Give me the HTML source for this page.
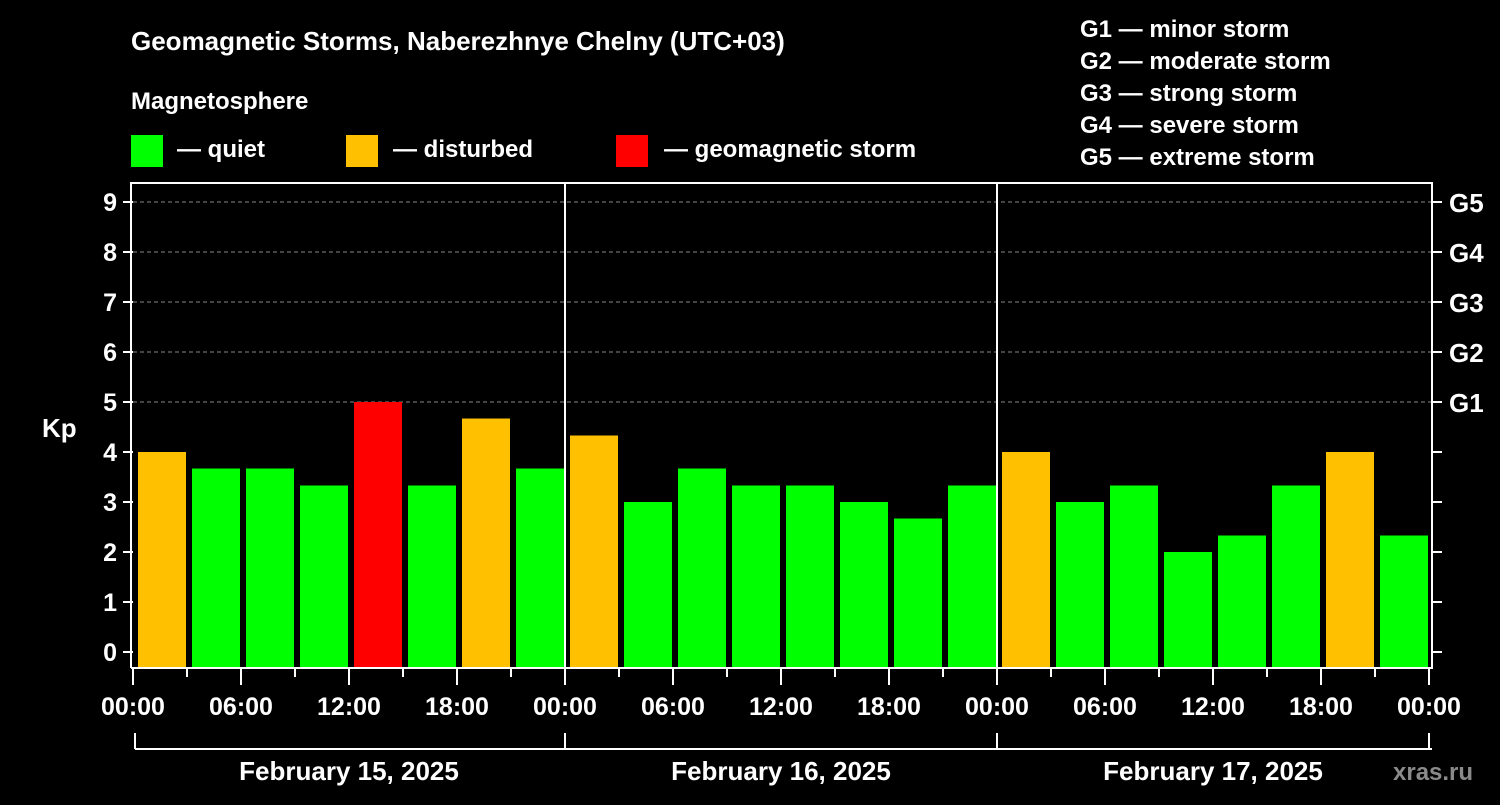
<!DOCTYPE html>
<html><head><meta charset="utf-8"><style>
body{margin:0;background:#000;width:1500px;height:800px;overflow:hidden}
svg text{font-family:"Liberation Sans",Arial,sans-serif;font-weight:bold;fill:#fff}
</style></head><body>
<svg id="c" width="1500" height="800">
<text x="131" y="50" font-size="26">Geomagnetic Storms, Naberezhnye Chelny (UTC+03)</text>
<text x="131" y="109" font-size="24">Magnetosphere</text>
<g><rect x="131" y="135" width="32" height="32" fill="#00ff00"/><text x="177" y="157" font-size="24">— quiet</text></g>
<g><rect x="346" y="135" width="32" height="32" fill="#ffc000"/><text x="393" y="157" font-size="24">— disturbed</text></g>
<g><rect x="616" y="135" width="32" height="32" fill="#ff0000"/><text x="664" y="157" font-size="24">— geomagnetic storm</text></g>
<g font-size="24">
<text x="1080" y="37">G1 — minor storm</text><text x="1080" y="69">G2 — moderate storm</text><text x="1080" y="101">G3 — strong storm</text><text x="1080" y="133">G4 — severe storm</text><text x="1080" y="165">G5 — extreme storm</text></g>
<text x="42" y="437" font-size="26">Kp</text>
<text x="1393" y="780" font-size="24" fill="#888" style="fill:#8a8a8a">xras.ru</text>
<g id="g"></g>
</svg>
<script>
const kpValues=[4,3.67,3.67,3.33,5,3.33,4.67,3.67, 4.33,3,3.67,3.33,3.33,3,2.67,3.33, 4,3,3.33,2,2.33,3.33,4,2.33];
const dayLabels=["February 15, 2025","February 16, 2025","February 17, 2025"];
const hourLabels=["00:00","06:00","12:00","18:00"];
const yTicks=[0,1,2,3,4,5,6,7,8,9];
const gLabels=["G1","G2","G3","G4","G5"];
const NS="http://www.w3.org/2000/svg",g=document.getElementById('g');
const X0=133,SLOT=54,TOP=183,BOT=668,RIGHT=1432;
const y=v=>652-50*v, x=i=>X0+i*SLOT;
function el(t,a,txt){const e=document.createElementNS(NS,t);for(const k in a)e.setAttribute(k,a[k]);if(txt!=null)e.textContent=txt;g.appendChild(e);return e;}
// grid
yTicks.forEach(v=>{if(v>=5){const l=el('line',{x1:X0,x2:RIGHT,y1:y(v),y2:y(v),stroke:'#888','stroke-dasharray':'4,3','stroke-width':1});

}});
// bars
kpValues.forEach((v,i)=>{const c=v>=5?'#ff0000':v>=4?'#ffc000':'#00ff00';
const r=el('rect',{x:x(i)+5,y:y(v),width:48,height:BOT-y(v),fill:c});

});
// frame
el('path',{d:`M${X0-2} ${BOT}V${TOP}H${RIGHT}V${BOT}H${X0-2}`,stroke:'#fff','stroke-width':2,fill:'none'});
for(let d=1;d<3;d++){const l=el('line',{x1:x(d*8),x2:x(d*8),y1:TOP,y2:BOT,stroke:'#fff','stroke-width':2});

}
// y ticks
yTicks.forEach(v=>{el('line',{x1:X0-10,x2:X0,y1:y(v),y2:y(v),stroke:'#fff','stroke-width':2});
el('line',{x1:RIGHT,x2:RIGHT+10,y1:y(v),y2:y(v),stroke:'#fff','stroke-width':2});
const t=el('text',{x:117,y:y(v)+9,'font-size':25,'text-anchor':'end'},v);

});
gLabels.forEach((s,i)=>{const t=el('text',{x:1449,y:y(5+i)+10,'font-size':26},s);

});
// x ticks
for(let i=0;i<=24;i++){const major=i%2==0;el('line',{x1:x(i),x2:x(i),y1:BOT,y2:BOT+(major?17:9),stroke:'#fff','stroke-width':2});
if(major){const t=el('text',{x:x(i),y:715,'font-size':25,'text-anchor':'middle'},hourLabels[(i/2)%4]);

}}
// day brackets
el('line',{x1:X0+2,x2:RIGHT,y1:749,y2:749,stroke:'#fff','stroke-width':2});
for(let d=0;d<=3;d++)el('line',{x1:x(d*8)+(d==0?2:0),x2:x(d*8)+(d==0?2:0),y1:733,y2:749,stroke:'#fff','stroke-width':2});
dayLabels.forEach((s,d)=>{const t=el('text',{x:x(d*8+4),y:780,'font-size':26,'text-anchor':'middle'},s);

});
</script>
</body></html>
